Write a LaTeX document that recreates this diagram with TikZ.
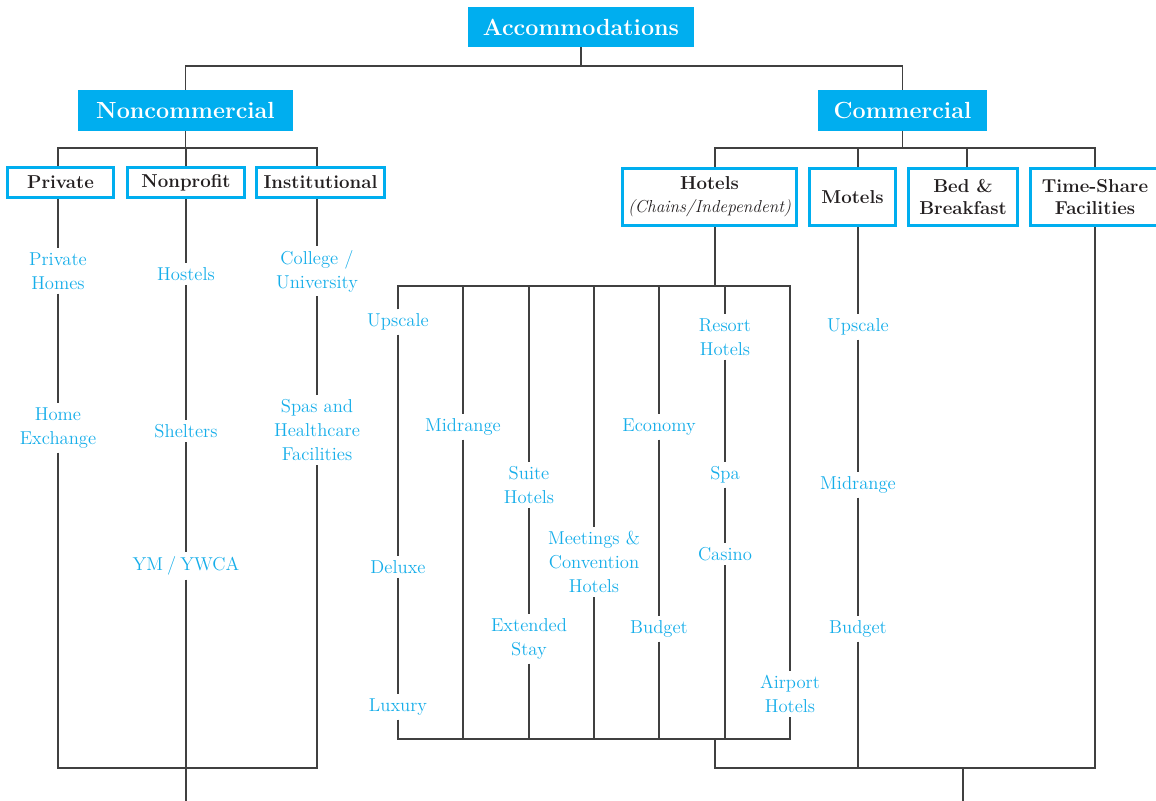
\documentclass[tikz,border=0pt]{standalone}
\usetikzlibrary{calc}
\definecolor{cy}{HTML}{00AEEF}
\definecolor{lb}{HTML}{16AEEA}
\definecolor{ln}{HTML}{404040}
\definecolor{tx}{HTML}{231F20}
\begin{document}
\begin{tikzpicture}[x=0.75pt,y=-0.75pt,
  conn/.style={draw=ln,line width=1.05pt},
  topbox/.style 2 args={fill=cy,text=white,font=\fontsize{17.5}{21}\selectfont\bfseries,minimum width=#1*0.75pt,minimum height=#2*0.75pt,inner sep=0pt},
  catbox/.style 2 args={draw=cy,line width=2.25pt,fill=white,text=tx,font=\fontsize{14}{18}\selectfont\bfseries,align=center,minimum width=#1*0.75pt,minimum height=#2*0.75pt,inner sep=0pt},
  lbl/.style={text=lb,font=\fontsize{14}{18}\selectfont,align=center,inner sep=3pt}
]
\fill[white] (0,0) rectangle (1156,800);
\useasboundingbox (0,0) rectangle (1156,800);

% boxes
\node[topbox={226}{40}] (acc) at (581,27) {Accommodations};
\node[topbox={215}{41}] (nonc) at (185.5,110.5) {Noncommercial};
\node[topbox={169}{41}] (comm) at (902.5,110.5) {Commercial};
\node[catbox={106}{30}] (priv) at (60.5,182.5) {Private};
\node[catbox={117}{30}] (nonp) at (186,182.5) {Nonprofit};
\node[catbox={128}{30}] (inst) at (320.5,182.5) {Institutional};
\node[catbox={174}{57}] (hot) at (709.5,197) {Hotels\\[-1pt]{\fontsize{13}{18}\selectfont\mdseries\itshape (Chains/Independent)}};
\node[catbox={86}{57}] (mot) at (852.5,197) {Motels};
\node[catbox={109}{57}] (bb) at (963,197) {Bed \&\\[-1pt]Breakfast};
\node[catbox={129}{57}] (ts) at (1095,197) {Time-Share\\[-1pt]Facilities};

% labels noncommercial
\node[lbl] (ph) at (58,271) {Private\\Homes};
\node[lbl] (he) at (58,428) {Home\\Exchange};
\node[lbl] (hs) at (186,274) {Hostels};
\node[lbl] (sh) at (186,431) {Shelters};
\node[lbl] (ym) at (186,566) {YM\hspace{0.22em}/\hspace{0.22em}YWCA};
\node[lbl] (cu) at (317,271) {College /\\University};
\node[lbl] (sp) at (317,430) {Spas and\\Healthcare\\Facilities};

% labels hotels
\node[lbl] (up1) at (398,322) {Upscale};
\node[lbl] (dl) at (398,567) {Deluxe};
\node[lbl] (lx) at (398,707) {Luxury};
\node[lbl] (md1) at (463,427) {Midrange};
\node[lbl] (su) at (529,485) {Suite\\Hotels};
\node[lbl] (es) at (529,639) {Extended\\Stay};
\node[lbl] (mc) at (594,562) {Meetings \&\\Convention\\Hotels};
\node[lbl] (ec) at (659,427) {Economy};
\node[lbl] (bu1) at (659,629) {Budget};
\node[lbl] (rh) at (725,337) {Resort\\Hotels};
\node[lbl] (spa) at (725,475) {Spa};
\node[lbl] (cas) at (725,554) {Casino};
\node[lbl] (ah) at (790,694) {Airport\\Hotels};

% labels motels
\node[lbl] (up2) at (858,327) {Upscale};
\node[lbl] (md2) at (858,485) {Midrange};
\node[lbl] (bu2) at (858,629) {Budget};

% levels
\coordinate (b0) at (0,66);
\coordinate (b1) at (0,148);
\coordinate (b2) at (0,286);
\coordinate (b3) at (0,739);
\coordinate (bot) at (0,768);
\coordinate (edge) at (0,803);
\coordinate (xh) at (715,0);
\coordinate (xm) at (858,0);
\coordinate (xb) at (967,0);
\coordinate (xt) at (1095,0);
\coordinate (xs) at (963,0);

% top level
\draw[conn] (acc.south) -- (acc.south |- b0);
\draw[conn] (nonc.north) -- (nonc.north |- b0) -- (comm.north |- b0) -- (comm.north);

% noncommercial
\draw[conn] (nonc.south) -- (nonc.south |- b1);
\draw[conn] (priv.north -| ph) -- (ph |- b1) -- (cu |- b1) -- (inst.north -| cu);
\draw[conn] (nonp.north) -- (nonp.north |- b1);
\draw[conn] (priv.south -| ph) -- (ph) -- (he) -- (he |- bot) -- (sp |- bot) -- (sp) -- (cu) -- (inst.south -| cu);
\draw[conn] (nonp.south) -- (hs) -- (sh) -- (ym) -- (ym |- edge);

% commercial
\draw[conn] (comm.south) -- (comm.south |- b1);
\draw[conn] (hot.north -| xh) -- (xh |- b1) -- (xt |- b1) -- (ts.north -| xt);
\draw[conn] (mot.north -| xm) -- (xm |- b1);
\draw[conn] (bb.north -| xb) -- (xb |- b1);

% hotels subtree
\draw[conn] (hot.south -| xh) -- (xh |- b2);
\draw[conn] (up1) -- (up1 |- b2) -- (ah |- b2) -- (ah);
\draw[conn] (up1) -- (dl) -- (lx) -- (lx |- b3) -- (ah |- b3) -- (ah);
\draw[conn] (md1 |- b2) -- (md1) -- (md1 |- b3);
\draw[conn] (su |- b2) -- (su) -- (es) -- (es |- b3);
\draw[conn] (mc |- b2) -- (mc) -- (mc |- b3);
\draw[conn] (ec |- b2) -- (ec) -- (bu1) -- (bu1 |- b3);
\draw[conn] (rh |- b2) -- (rh) -- (spa) -- (cas) -- (cas |- b3);

% motels and bottom
\draw[conn] (mot.south -| up2) -- (up2) -- (md2) -- (bu2) -- (bu2 |- bot);
\draw[conn] (xh |- b3) -- (xh |- bot) -- (xt |- bot) -- (ts.south -| xt);
\draw[conn] (xs |- bot) -- (xs |- edge);
\end{tikzpicture}
\end{document}
